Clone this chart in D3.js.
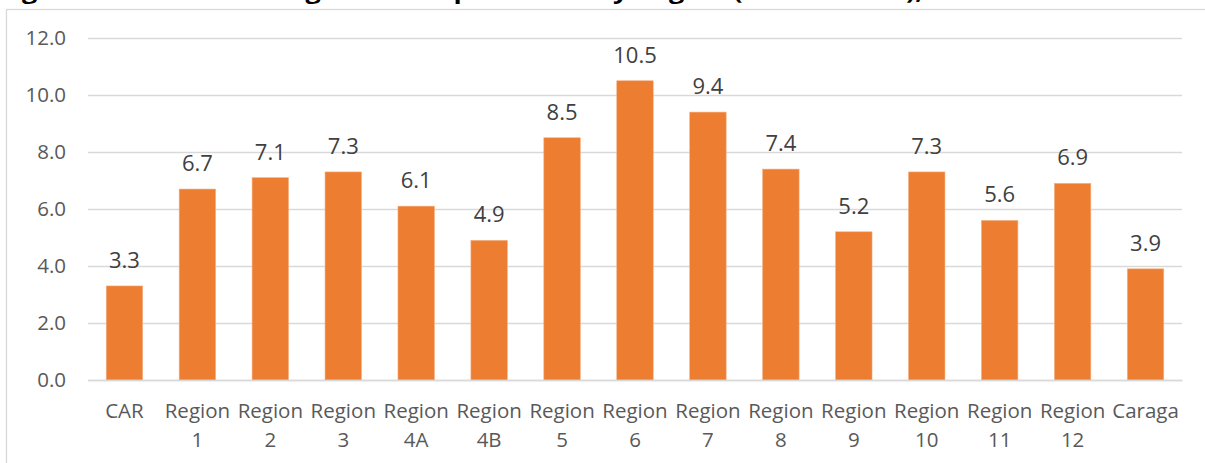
<!DOCTYPE html>
<html><head><meta charset="utf-8">
<script src="https://cdn.jsdelivr.net/npm/d3@7"></script>
<style>html,body{margin:0;padding:0;background:#fff;overflow:hidden}</style>
</head><body>
<svg id="c" width="1205" height="463" style="display:block"></svg>
<script>
const titleText = "Figure 5. Incidence of agricultural producers by Region (in % to total), %";
const categories = ["CAR","Region 1","Region 2","Region 3","Region 4A","Region 4B","Region 5","Region 6","Region 7","Region 8","Region 9","Region 10","Region 11","Region 12","Caraga"];
const values = [3.3,6.7,7.1,7.3,6.1,4.9,8.5,10.5,9.4,7.4,5.2,7.3,5.6,6.9,3.9];
const yTicks = [0,2,4,6,8,10,12];

const svg = d3.select("#c");
const font = "'Open Sans', sans-serif";
const W = 1205, H = 463;
const m = {left: 88, right: 1182, top: 38, bottom: 380};

// frame
svg.append("rect").attr("x",6.5).attr("y",9.5).attr("width",W).attr("height",H)
  .attr("fill","#fff").attr("stroke","#d9d9d9").attr("stroke-width",1.3);

// partially clipped title (cut off at the top edge as in the source)
svg.append("text").attr("x",-1).attr("y",-1).attr("font-family",font).attr("font-weight","bold")
  .attr("font-size",21).attr("fill","#000")
  .attr("textLength",955).attr("lengthAdjust","spacingAndGlyphs").text(titleText);

const x = d3.scaleBand().domain(categories).range([m.left, m.right]).paddingInner(0.5).paddingOuter(0.25);
const y = d3.scaleLinear().domain([0,12]).range([m.bottom, m.top]);

// gridlines + y labels
const yAxis = d3.axisLeft(y).tickValues(yTicks).tickSize(-(m.right-m.left)).tickFormat(d3.format(".1f")).tickPadding(22);
const gy = svg.append("g").attr("transform",`translate(${m.left},0)`).call(yAxis);
gy.select(".domain").remove();
gy.selectAll(".tick line").attr("stroke","#d9d9d9").attr("stroke-width",1.3);
gy.selectAll(".tick text").attr("font-family",font).attr("font-size",20.5).attr("fill","#595959");

// bars
svg.append("g").selectAll("rect").data(values).join("rect")
  .attr("x",(d,i)=>x(categories[i]))
  .attr("y",d=>y(d))
  .attr("width",x.bandwidth())
  .attr("height",d=>y(0)-y(d))
  .attr("fill","#ED7D31").attr("stroke","#f4b183").attr("stroke-width",0.6);

// value labels
svg.append("g").selectAll("text").data(values).join("text")
  .attr("x",(d,i)=>x(categories[i])+x.bandwidth()/2)
  .attr("y",d=>y(d)-18)
  .attr("text-anchor","middle").attr("font-family",font).attr("font-size",22).attr("fill","#404040")
  .text(d=>d3.format(".1f")(d));

// x labels
const xAxis = d3.axisBottom(x).tickSize(0).tickPadding(0);
const gx = svg.append("g").attr("transform",`translate(0,${m.bottom})`).call(xAxis);
gx.select(".domain").attr("stroke","#d9d9d9").attr("stroke-width",1.3);
gx.selectAll(".tick text").each(function(d){
  const t = d3.select(this);
  t.text(null).attr("font-family",font).attr("font-size",20.5).attr("fill","#595959").attr("y",0).attr("dy",null);
  d.split(" ").forEach((p,i)=>{
    t.append("tspan").attr("x",0).attr("y",38+i*29).text(p);
  });
});
</script>
</body></html>
